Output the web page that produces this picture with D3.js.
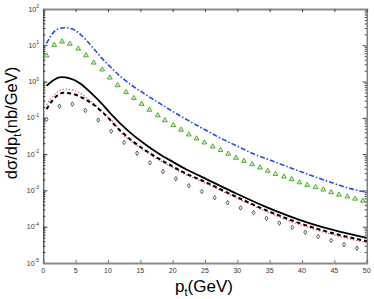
<!DOCTYPE html>
<html>
<head>
<meta charset="utf-8">
<script src="https://cdn.jsdelivr.net/npm/d3@7"></script>
<style>
  body { margin: 0; background: #fff; }
  svg { display: block; font-family: "Liberation Sans", Arial, sans-serif; }
</style>
</head>
<body>
<div id="chart"></div>
<script>
// values (pt in GeV, dsigma/dpt in nb/GeV)
const triPt = [0.5, 1.7, 2.9, 4.1, 5.4, 6.6, 7.8, 9.1, 10.3, 11.5, 12.8, 14.0, 15.2, 16.4, 17.7,
  18.8, 20.1, 21.3, 22.5, 23.7, 24.9, 26.2, 27.4, 28.6, 29.8, 31.0, 32.3, 33.5, 34.7, 35.9,
  37.2, 38.4, 39.6, 40.8, 42.1, 43.3, 44.5, 45.7, 47.0, 48.2, 49.4];
const triVal = [5.2, 10.2, 12.6, 10.9, 8.05, 5.25, 3.31, 2.14, 1.28, 0.79, 0.507, 0.347, 0.242,
  0.166, 0.117, 0.085, 0.063, 0.047, 0.0347, 0.0269, 0.0209, 0.0162, 0.0129, 0.0102, 0.0079,
  0.00646, 0.00525, 0.00427, 0.00347, 0.00282, 0.0024, 0.00204, 0.00166, 0.00141, 0.00123,
  0.00105, 0.00089, 0.00076, 0.00068, 0.00059, 0.00052];

const diaPt = [0.5, 2.5, 4.5, 6.5, 8.5, 10.5, 12.5, 14.5, 16.5, 18.5, 20.5, 22.5, 24.5, 26.5,
  28.5, 30.5, 32.5, 34.5, 36.5, 38.5, 40.5, 42.5, 44.5, 46.5, 48.5];
const diaVal = [0.091, 0.21, 0.24, 0.16, 0.087, 0.043, 0.021, 0.0106, 0.0058, 0.0033, 0.0021,
  0.00135, 0.00093, 0.00063, 0.00046, 0.00033, 0.000245, 0.00017, 0.000126, 0.0000955,
  0.0000708, 0.0000537, 0.0000417, 0.0000324, 0.0000257];

const bluePt = [0.5, 1.5, 2.5, 3.3, 4.5, 6.0, 7.5, 9.0, 10.5, 12, 14, 16, 18, 20, 22.5, 25,
  27.5, 30, 32.5, 35, 37.5, 40, 42.5, 45, 47.5, 50];
const blueVal = [11.2, 22, 29, 30.5, 28, 18, 9.3, 4.5, 2.4, 1.35, 0.72, 0.42, 0.25, 0.15, 0.083,
  0.047, 0.027, 0.0166, 0.0102, 0.0069, 0.0047, 0.0032, 0.0022, 0.00155, 0.00112, 0.00089];

const solidPt = [0.5, 1.5, 2.8, 4.1, 5.7, 7.2, 8.75, 10.3, 12, 14, 16, 18, 20, 22, 24.2,
  29.3, 34.5, 39.6, 44.8, 50];
const solidVal = [0.76, 1.07, 1.32, 1.23, 0.89, 0.52, 0.28, 0.138, 0.0676, 0.0324, 0.0174, 0.01,
  0.00617, 0.00389, 0.00251, 0.000912, 0.000347, 0.000155, 0.0000813, 0.000049];

const dashPt = [0.5, 1.5, 3.1, 4.6, 6.2, 7.8, 9.3, 12, 14, 16, 18, 20, 22, 24.2, 29.3, 34.5,
  39.6, 44.8, 50];
const dashVal = [0.174, 0.316, 0.49, 0.457, 0.347, 0.229, 0.135, 0.0427, 0.0214, 0.012, 0.00724,
  0.00457, 0.00295, 0.002, 0.000741, 0.000282, 0.000126, 0.000066, 0.00004];

const dotPt = [0.5, 1.5, 3.4, 5, 6.5, 8, 9.5, 11, 12, 14, 16, 18, 20, 22, 24.2, 29.3, 34.5,
  39.6, 44.8, 50];
const dotVal = [0.23, 0.4, 0.62, 0.55, 0.38, 0.23, 0.129, 0.0708, 0.0398, 0.02, 0.0112, 0.00676,
  0.00427, 0.00275, 0.00186, 0.00069, 0.00026, 0.000115, 0.00006, 0.000036];

const xTicks = [0, 5, 10, 15, 20, 25, 30, 35, 40, 45, 50];
const yExps = [-5, -4, -3, -2, -1, 0, 1, 2];

const width = 374, height = 299;
const plotL = 43.3, plotR = 366.7, plotT = 9, plotB = 263;

const zip = (xs, ys) => xs.map((d, i) => [d, ys[i]]);

const svg = d3.select("#chart").append("svg")
  .attr("width", width)
  .attr("height", height);

const x = d3.scaleLinear().domain([0, 50]).range([plotL, plotR]);
const y = d3.scaleLog().domain([1e-5, 1e2]).range([plotB, plotT]);

// minor + major log ticks
const allY = y.ticks().filter(v => v >= 1e-5 && v <= 1e2);
const isMajor = v => Math.abs(Math.log10(v) - Math.round(Math.log10(v))) < 1e-6;

// left axis
svg.append("g")
  .attr("transform", `translate(${plotL},0)`)
  .call(d3.axisLeft(y).tickValues(allY).tickSize(0).tickFormat(""))
  .call(g => g.select(".domain").attr("stroke", "#222"))
  .call(g => g.selectAll(".tick line")
    .attr("stroke", "#222")
    .attr("x2", d => isMajor(d) ? 4 : 2));

// right axis
svg.append("g")
  .attr("transform", `translate(${plotR},0)`)
  .call(d3.axisRight(y).tickValues(allY).tickSize(0).tickFormat(""))
  .call(g => g.select(".domain").attr("stroke", "#444"))
  .call(g => g.selectAll(".tick line")
    .attr("stroke", "#444")
    .attr("x2", d => isMajor(d) ? -4 : -2));

// bottom and top axes
svg.append("g")
  .attr("transform", `translate(0,${plotB})`)
  .call(d3.axisBottom(x).tickValues(xTicks).tickSize(-3).tickFormat(""))
  .call(g => g.select(".domain").attr("stroke", "#8a8a8a").attr("stroke-width", 2))
  .call(g => g.selectAll(".tick line").attr("stroke", "#777"));

svg.append("g")
  .attr("transform", `translate(0,${plotT})`)
  .call(d3.axisTop(x).tickValues(xTicks).tickSize(-3).tickFormat(""))
  .call(g => g.select(".domain").attr("stroke", "#8a8a8a").attr("stroke-width", 2))
  .call(g => g.selectAll(".tick line").attr("stroke", "#444"));

// tick labels
svg.append("g").selectAll("text")
  .data(xTicks)
  .join("text")
  .attr("x", d => x(d))
  .attr("y", 273)
  .attr("text-anchor", "middle")
  .attr("font-size", 7)
  .attr("fill", "#333")
  .text(d => d);

const yl = svg.append("g").selectAll("text")
  .data(yExps)
  .join("text")
  .attr("x", 39)
  .attr("y", d => y(Math.pow(10, d)) + 2.5)
  .attr("text-anchor", "end")
  .attr("font-size", 7)
  .attr("fill", "#333");
yl.append("tspan").text("10");
yl.append("tspan")
  .attr("font-size", 5)
  .attr("dy", -3.5)
  .text(d => d);

// curves
const line = d3.line()
  .x(d => x(d[0]))
  .y(d => y(d[1]))
  .curve(d3.curveMonotoneX);

const plot = svg.append("g");

plot.append("path")
  .datum(zip(bluePt, blueVal))
  .attr("d", line)
  .attr("fill", "none")
  .attr("stroke", "#2748f0")
  .attr("stroke-width", 1.6)
  .attr("stroke-dasharray", "5,2,1.5,2");

plot.append("path")
  .datum(zip(dotPt, dotVal))
  .attr("d", line)
  .attr("fill", "none")
  .attr("stroke", "#ff5a5a")
  .attr("stroke-width", 1.3)
  .attr("stroke-dasharray", "1.4,1.8");

plot.append("path")
  .datum(zip(dashPt, dashVal))
  .attr("d", line)
  .attr("fill", "none")
  .attr("stroke", "#000")
  .attr("stroke-width", 2)
  .attr("stroke-dasharray", "4,3");

plot.append("path")
  .datum(zip(solidPt, solidVal))
  .attr("d", line)
  .attr("fill", "none")
  .attr("stroke", "#000")
  .attr("stroke-width", 1.8);

// markers
plot.append("g").selectAll("path")
  .data(zip(triPt, triVal))
  .join("path")
  .attr("d", d3.symbol(d3.symbolTriangle, 10))
  .attr("transform", d => `translate(${x(d[0])},${y(d[1])})`)
  .attr("fill", "#d4f0cc")
  .attr("stroke", "#4caf2e")
  .attr("stroke-width", 1);

plot.append("g").selectAll("path")
  .data(zip(diaPt, diaVal))
  .join("path")
  .attr("d", "M0,-2.2L1.5,0L0,2.2L-1.5,0Z")
  .attr("transform", d => `translate(${x(d[0])},${y(d[1])})`)
  .attr("fill", "#fff")
  .attr("stroke", "#444")
  .attr("stroke-width", 0.9);

// axis titles
const yt = svg.append("text")
  .attr("transform", "translate(17,123) rotate(-90)")
  .attr("text-anchor", "middle")
  .attr("font-size", 16.5)
  .attr("fill", "#000");
yt.append("tspan").text("dσ/dp");
yt.append("tspan").attr("font-size", 11).attr("dy", 4).text("t");
yt.append("tspan").attr("dy", -4).text("(nb/GeV)");

const xt = svg.append("text")
  .attr("x", 204)
  .attr("y", 292)
  .attr("text-anchor", "middle")
  .attr("font-size", 17)
  .attr("fill", "#000");
xt.append("tspan").text("p");
xt.append("tspan").attr("font-size", 11).attr("dy", 4).text("t");
xt.append("tspan").attr("dy", -4).text("(GeV)");
</script>
</body>
</html>
